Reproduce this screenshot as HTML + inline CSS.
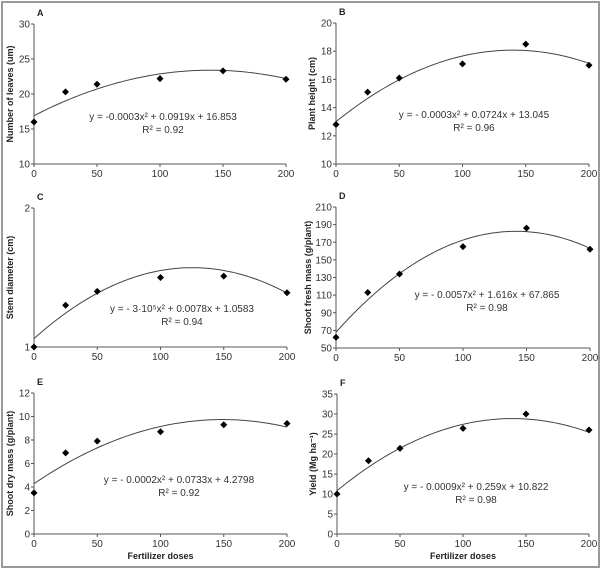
<!DOCTYPE html>
<html><head><meta charset="utf-8">
<style>
html,body{margin:0;padding:0;background:#fff;}
svg{display:block;font-family:"Liberation Sans",sans-serif;}
.t{font-size:10px;fill:#333;}
.eq{font-size:10px;fill:#333;}
.yl{font-size:9px;font-weight:bold;fill:#222;}
.pl{font-size:9px;font-weight:bold;fill:#222;}
</style></head>
<body>
<svg id="fig" width="602" height="570" viewBox="0 0 602 570">
<rect x="2" y="2" width="597" height="565" fill="#fff" stroke="#9a9a9a" stroke-width="2"/>
</svg>
<script>
const doses = [0, 25, 50, 100, 150, 200];
const xTicks = [0, 50, 100, 150, 200];
const valsA = [16, 20.3, 21.4, 22.2, 23.3, 22.1];
const valsB = [12.8, 15.1, 16.1, 17.1, 18.5, 17.0];
const valsC = [1.0, 1.30, 1.40, 1.50, 1.51, 1.39];
const valsD = [62, 113, 134, 165, 186, 162];
const valsE = [3.5, 6.9, 7.9, 8.7, 9.3, 9.4];
const valsF = [10, 18.3, 21.4, 26.4, 30, 26];
const coefA = [-0.000332, 0.0929, 16.9];
const coefB = [-0.000259, 0.0725, 13.0];
const coefC = [-0.0000326, 0.00816, 1.06];
const coefD = [-0.0057, 1.616, 67.865];
const coefE = [-0.000246, 0.0733, 4.28];
const coefF = [-0.00093, 0.259, 10.822];
const ticksA = [10, 15, 20, 25, 30];
const ticksB = [10, 12, 14, 16, 18, 20];
const ticksC = [1, 2];
const ticksD = [50, 70, 90, 110, 130, 150, 170, 190, 210];
const ticksE = [0, 2, 4, 6, 8, 10, 12];
const ticksF = [0, 5, 10, 15, 20, 25, 30, 35];

const NS = "http://www.w3.org/2000/svg";
const svg = document.getElementById('fig');
function mk(tag, attrs, parent, text) {
  const e = document.createElementNS(NS, tag);
  for (const k in attrs) e.setAttribute(k, attrs[k]);
  if (text !== undefined) e.textContent = text;
  (parent || svg).appendChild(e);
  return e;
}
const panels = [
  {id:'a', L:'A', x0:34, x1:286, y0:164, y1:24, ymin:10, ymax:30, ticks:ticksA, vals:valsA, coef:coefA, ylab:'Number of leaves (um)', eq:'y = -0.0003x² + 0.0919x + 16.853', r2:'R² = 0.92', ex:163, ey:120, xt:false, lo:21},
  {id:'b', L:'B', x0:336, x1:589, y0:164, y1:23, ymin:10, ymax:20, ticks:ticksB, vals:valsB, coef:coefB, ylab:'Plant height (cm)', eq:'y = - 0.0003x² + 0.0724x + 13.045', r2:'R² = 0.96', ex:474, ey:118, xt:false, lo:21},
  {id:'c', L:'C', x0:34, x1:287, y0:347, y1:208, ymin:1, ymax:2, ticks:ticksC, vals:valsC, coef:coefC, ylab:'Stem diameter (cm)', eq:'y = - 3·10⁵x² + 0.0078x + 1.0583', r2:'R² = 0.94', ex:182, ey:312, xt:false, lo:21},
  {id:'d', L:'D', x0:336, x1:590, y0:348, y1:207, ymin:50, ymax:210, ticks:ticksD, vals:valsD, coef:coefD, ylab:'Shoot fresh mass (g/plant)', eq:'y = - 0.0057x² + 1.616x + 67.865', r2:'R² = 0.98', ex:487, ey:298, xt:false, lo:25},
  {id:'e', L:'E', x0:34, x1:287, y0:534, y1:393, ymin:0, ymax:12, ticks:ticksE, vals:valsE, coef:coefE, ylab:'Shoot dry mass (g/plant)', eq:'y = - 0.0002x² + 0.0733x + 4.2798', r2:'R² = 0.92', ex:179, ey:483, xt:true, lo:21},
  {id:'f', L:'F', x0:337, x1:589, y0:534, y1:394, ymin:0, ymax:35, ticks:ticksF, vals:valsF, coef:coefF, ylab:'Yield (Mg ha⁻¹)', eq:'y = - 0.0009x² + 0.259x + 10.822', r2:'R² = 0.98', ex:476, ey:490, xt:true, lo:21}
];
panels.forEach(p => {
  const g = mk('g', {});
  
  
  const X = v => p.x0 + (v - 0) / 200 * (p.x1 - p.x0);
  const Y = v => p.y0 - (v - p.ymin) / (p.ymax - p.ymin) * (p.y0 - p.y1);
  const lt = mk('text', {x:p.x0 + 3, y:p.y1 - 8, class:'pl'}, g, p.L);
  
  
  const ya = mk('line', {x1:p.x0, y1:p.y0, x2:p.x0, y2:p.y1, stroke:'#555', 'stroke-width':1}, g);
  
  
  const xa = mk('line', {x1:p.x0, y1:p.y0, x2:p.x1, y2:p.y0, stroke:'#555', 'stroke-width':1}, g);
  
  
  p.ticks.forEach(t => {
    mk('line', {x1:p.x0 - 3, y1:Y(t), x2:p.x0, y2:Y(t), stroke:'#555'}, g);
    const tl = mk('text', {x:p.x0 - 4, y:Y(t) + 3.5, class:'t', 'text-anchor':'end'}, g, t);
    
    
  });
  xTicks.forEach(t => {
    mk('line', {x1:X(t), y1:p.y0, x2:X(t), y2:p.y0 + 3, stroke:'#555'}, g);
    const tl = mk('text', {x:X(t), y:p.y0 + 13, class:'t', 'text-anchor':'middle'}, g, t);
    
    
  });
  const yl = mk('text', {x:0, y:0, class:'yl', 'text-anchor':'middle', transform:`translate(${p.x0 - p.lo},${(p.y0 + p.y1) / 2}) rotate(-90)`}, g, p.ylab);
  
  
  let d = '';
  for (let i = 0; i <= 100; i++) {
    const xv = i * 2;
    const yv = p.coef[0] * xv * xv + p.coef[1] * xv + p.coef[2];
    d += (i ? 'L' : 'M') + X(xv).toFixed(2) + ',' + Y(yv).toFixed(2);
  }
  const cv = mk('path', {d:d, fill:'none', stroke:'#444', 'stroke-width':1}, g);
  
  
  p.vals.forEach((v, i) => {
    const cx = X(doses[i]), cy = Y(v);
    const pt = mk('path', {d:`M${cx},${cy - 3.5}L${cx + 3.5},${cy}L${cx},${cy + 3.5}L${cx - 3.5},${cy}Z`, fill:'#000'}, g);
    
    
  });
  const eq = mk('text', {x:p.ex, y:p.ey, class:'eq', 'text-anchor':'middle'}, g, p.eq);
  
  
  const r2 = mk('text', {x:p.ex, y:p.ey + 13, class:'eq', 'text-anchor':'middle'}, g, p.r2);
  
  
  if (p.xt) {
    const xt = mk('text', {x:(p.x0 + p.x1) / 2, y:559, class:'yl', 'text-anchor':'middle'}, g, 'Fertilizer doses');
    
    
  }
});
</script>
</body></html>
